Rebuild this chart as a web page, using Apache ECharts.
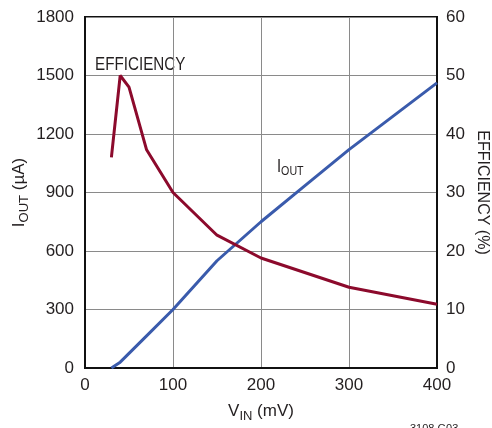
<!DOCTYPE html>
<html>
<head>
<meta charset="utf-8">
<script src="https://cdn.jsdelivr.net/npm/echarts@6/dist/echarts.min.js"></script>
<style>
html,body{margin:0;padding:0;background:#fff;}
#c{width:492px;height:428px;}
</style>
</head>
<body>
<div id="c"></div>
<script>
// Efficiency (%) vs V_IN (mV)
const effVin = [30, 40, 50, 70, 100, 150, 200, 300, 400];
const effValues = [36, 50, 48, 37.3, 30, 22.7, 18.8, 13.8, 10.9];
// I_OUT (µA) vs V_IN (mV)
const ioutVin = [30, 40, 50, 70, 100, 150, 200, 250, 300, 400];
const ioutValues = [0, 30, 75, 165, 300, 550, 750, 935, 1120, 1462];
// Axis ticks
const xTicks = [0, 100, 200, 300, 400];
const leftTicks = [0, 300, 600, 900, 1200, 1500, 1800];
const rightTicks = [0, 10, 20, 30, 40, 50, 60];

const FONT = "'Liberation Sans', Arial, sans-serif";
const TXT = '#231f20';
const RED = '#8c0a2c';
const BLUE = '#3a5bac';

const chart = echarts.init(document.getElementById('c'), null, {renderer: 'canvas'});

const subRich = {
  b: {fontSize: 17, fontFamily: FONT, color: TXT, lineHeight: 17, verticalAlign: 'top'},
  s: {fontSize: 13, fontFamily: FONT, color: TXT, lineHeight: 13, padding: [7, 0, 0, 0], verticalAlign: 'top'}
};
const insideRich = {
  b: {fontSize: 18, fontFamily: FONT, fill: TXT, lineHeight: 18, verticalAlign: 'top'},
  s: {fontSize: 13, fontFamily: FONT, fill: TXT, lineHeight: 13, padding: [7, 0, 0, 0], verticalAlign: 'top'}
};
const fmt = v => String(v);

chart.setOption({
  animation: false,
  backgroundColor: '#fff',
  grid: {left: 85, right: 55, top: 17, bottom: 60, containLabel: false, outerBoundsMode: 'none',
         show: true, borderColor: '#111', borderWidth: 2, backgroundColor: 'transparent'},
  xAxis: {
    type: 'value', min: xTicks[0], max: xTicks[xTicks.length - 1], interval: xTicks[1] - xTicks[0],
    axisLine: {show: true, lineStyle: {color: '#111', width: 2}},
    axisTick: {show: false},
    axisLabel: {fontSize: 17, fontFamily: FONT, color: TXT, margin: 9, formatter: fmt},
    splitLine: {show: true, lineStyle: {color: '#8a8a8a', width: 1}},
    name: '{b|V}{s|IN}{b| (mV)}', nameLocation: 'middle', nameGap: 35, nameMoveOverlap: false,
    nameTextStyle: {rich: subRich}
  },
  yAxis: [
    {
      type: 'value', min: leftTicks[0], max: leftTicks[leftTicks.length - 1], interval: leftTicks[1] - leftTicks[0],
      axisLine: {show: true, lineStyle: {color: '#111', width: 2}},
      axisTick: {show: false},
      axisLabel: {fontSize: 17, fontFamily: FONT, color: TXT, margin: 11, formatter: fmt},
      splitLine: {show: true, lineStyle: {color: '#8a8a8a', width: 1}},
      name: '{b|I}{s|OUT}{b| (µA)}', nameLocation: 'middle', nameGap: 57, nameRotate: 90, nameMoveOverlap: false,
      nameTextStyle: {rich: subRich}
    },
    {
      type: 'value', min: rightTicks[0], max: rightTicks[rightTicks.length - 1], interval: rightTicks[1] - rightTicks[0],
      position: 'right',
      axisLine: {show: true, lineStyle: {color: '#111', width: 2}},
      axisTick: {show: false},
      axisLabel: {fontSize: 17, fontFamily: FONT, color: TXT, margin: 9, formatter: fmt},
      splitLine: {show: false},
      name: 'EFFICIENCY (%)', nameLocation: 'middle', nameGap: 37, nameRotate: -90, nameMoveOverlap: false,
      nameTextStyle: {fontSize: 16, fontFamily: FONT, color: TXT}
    }
  ],
  series: [
    {
      name: 'IOUT', type: 'line', yAxisIndex: 0, symbol: 'none',
      lineStyle: {color: BLUE, width: 3},
      data: ioutVin.map((v, i) => [v, ioutValues[i]]),
      z: 3
    },
    {
      name: 'EFFICIENCY', type: 'line', yAxisIndex: 1, symbol: 'none',
      lineStyle: {color: RED, width: 3},
      data: effVin.map((v, i) => [v, effValues[i]]),
      z: 4
    }
  ],
  graphic: [
    {type: 'text', x: 95, y: 64.5, scaleX: 0.8, style: {text: 'EFFICIENCY', fontSize: 19, fontFamily: FONT, fill: TXT, verticalAlign: 'middle'}},
    {type: 'text', x: 277, y: 158, scaleX: 0.82, style: {text: '{b|I}{s|OUT}', rich: insideRich, verticalAlign: 'top'}},
    {type: 'text', x: 410, y: 423, style: {text: '3108 G03', fontSize: 11, fontFamily: FONT, fill: TXT, verticalAlign: 'top'}}
  ]
});
</script>
</body>
</html>
